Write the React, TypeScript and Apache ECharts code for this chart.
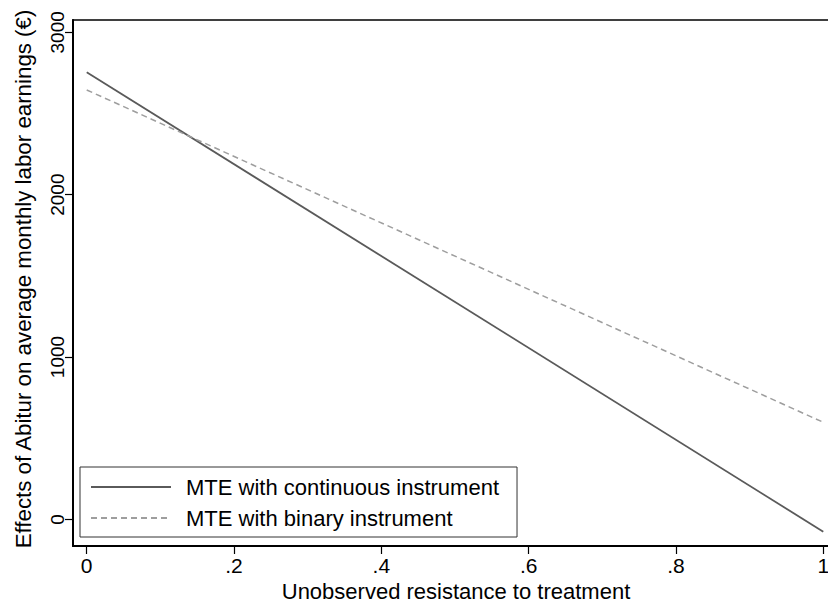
import React, { useEffect, useRef } from "react";
import * as echarts from "echarts";

const xTicks = [0, 0.2, 0.4, 0.6, 0.8, 1];
const yTicks = [0, 1000, 2000, 3000];
const seriesNames = ["MTE with continuous instrument", "MTE with binary instrument"];
const xValues = [0, 1];
const continuousValues = [2754, -76];
const binaryValues = [2645, 598];
const xTitle = "Unobserved resistance to treatment";
const yTitle = "Effects of Abitur on average monthly labor earnings (€)";

const FONT = "'Liberation Sans', Arial, sans-serif";

export default function App() {
  const ref = useRef<HTMLDivElement>(null);
  useEffect(() => {
    if (!ref.current) return;
    const chart = echarts.init(ref.current, undefined, { renderer: "svg" });
    const fmtX = (v: number) => {
      const r = Math.round(v * 10) / 10;
      if (r === 0) return "0";
      if (r === 1) return "1";
      return String(r).replace(/^0/, "");
    };
    chart.setOption({
      animation: false,
      backgroundColor: "#fff",
      textStyle: { fontFamily: FONT },
      grid: {
        left: 73,
        top: 20,
        right: 3,
        bottom: 57,
        show: true,
        borderColor: "#000",
        borderWidth: 1.5,
        backgroundColor: "#fff",
      },
      xAxis: {
        type: "value",
        min: -0.0186,
        max: 1.0186,
        axisLine: { show: true, onZero: false, lineStyle: { color: "#000", width: 2 } },
        axisTick: { show: true, length: 8, customValues: xTicks, lineStyle: { color: "#000", width: 1.2 } },
        axisLabel: {
          customValues: xTicks,
          formatter: (v: number) => fmtX(v),
          color: "#000",
          fontSize: 21,
          fontFamily: FONT,
          margin: 9,
        },
        splitLine: { show: false },
      },
      yAxis: {
        type: "value",
        min: -164,
        max: 3076,
        axisLine: { show: true, onZero: false, lineStyle: { color: "#000", width: 2 } },
        axisTick: { show: true, length: 8, customValues: yTicks, lineStyle: { color: "#000", width: 1.2 } },
        axisLabel: {
          customValues: yTicks,
          formatter: (v: number) => String(Math.round(v)),
          rotate: 90,
          color: "#000",
          fontSize: 19,
          fontFamily: FONT,
          margin: 6,
        },
        splitLine: { show: false },
      },
      legend: {
        orient: "vertical",
        left: 80,
        top: 467,
        padding: [8, 18, 7, 10],
        itemGap: 7,
        itemWidth: 80,
        itemHeight: 14,
        borderColor: "#333",
        borderWidth: 1,
        backgroundColor: "#fff",
        itemStyle: { opacity: 0 },
        textStyle: {
          fontSize: 22,
          lineHeight: 24,
          color: "#000",
          fontFamily: FONT,
          padding: [0, 0, 0, 10],
        },
        data: seriesNames,
      },
      graphic: [
        {
          type: "text",
          x: 456,
          y: 591,
          style: {
            text: xTitle,
            fontSize: 22,
            fontFamily: FONT,
            fill: "#000",
            align: "center",
            verticalAlign: "middle",
          },
        },
        {
          type: "text",
          x: 23,
          y: 279,
          rotation: Math.PI / 2,
          style: {
            text: yTitle,
            fontSize: 22.3,
            fontFamily: FONT,
            fill: "#000",
            align: "center",
            verticalAlign: "middle",
          },
        },
      ],
      series: [
        {
          name: seriesNames[0],
          type: "line",
          symbol: "none",
          data: xValues.map((x, i) => [x, continuousValues[i]]),
          lineStyle: { color: "#5a5a5a", width: 1.8, type: "solid" },
          itemStyle: { color: "#5a5a5a" },
        },
        {
          name: seriesNames[1],
          type: "line",
          symbol: "none",
          data: xValues.map((x, i) => [x, binaryValues[i]]),
          lineStyle: { color: "#9e9e9e", width: 1.5, type: [6, 4] },
          itemStyle: { color: "#9e9e9e" },
        },
      ],
    });
    return () => chart.dispose();
  }, []);
  return (
    <div
      style={{
        position: "fixed",
        left: 0,
        top: 0,
        width: 828,
        height: 603,
        overflow: "hidden",
        background: "#fff",
      }}
    >
      <div ref={ref} style={{ width: 840, height: 603 }} />
    </div>
  );
}
